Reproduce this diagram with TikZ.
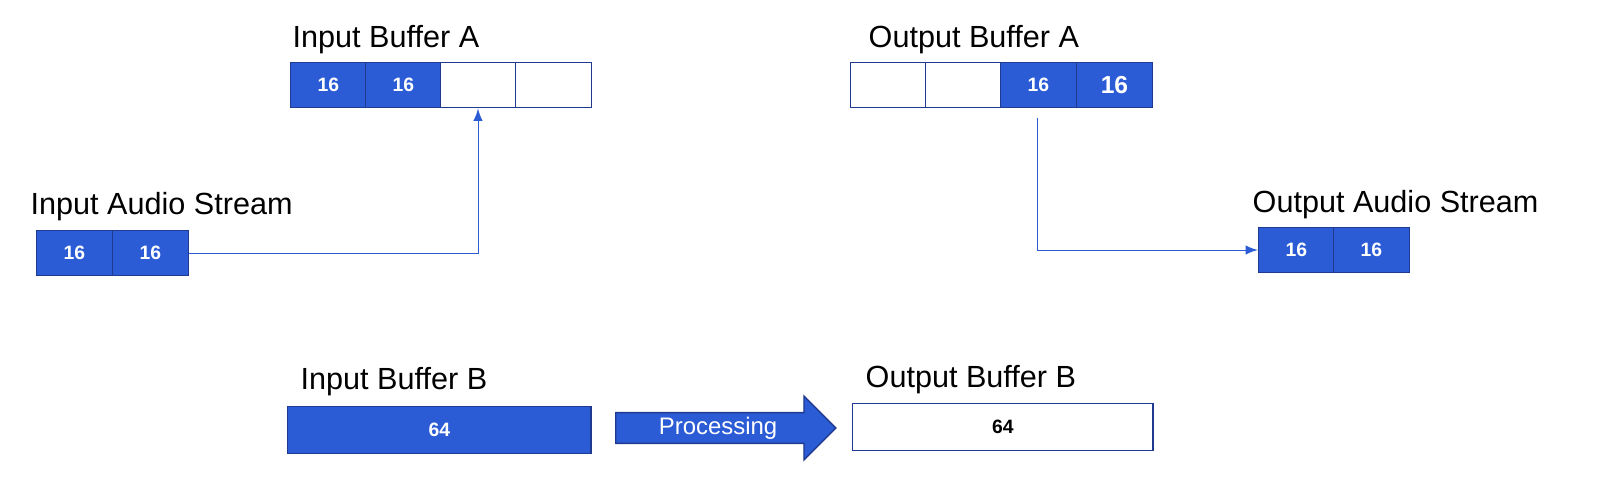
\documentclass[tikz,border=0pt]{standalone}
\usepackage{fontspec}
\setmainfont{Liberation Sans}
\usetikzlibrary{positioning,shapes.arrows}
\definecolor{cellblue}{HTML}{2B5CD6}
\definecolor{celledge}{HTML}{1F3A8F}
\tikzset{
    cell/.style={draw=celledge, fill=cellblue, text=white, minimum width=0.755cm, minimum height=0.45cm, inner sep=0pt, font=\fontsize{5.5}{6}\selectfont\bfseries, anchor=north west},
    empty/.style={cell, fill=white},
    title/.style={anchor=south west, inner sep=0pt, font=\fontsize{8.7}{9}\selectfont},
    link/.style={draw=cellblue, line width=0.25pt, -latex},
}
\begin{document}
\begin{tikzpicture}[x=0.01cm, y=-0.01cm]
\useasboundingbox (0,0) rectangle (1622,503);
% input buffer A
\node [cell] (ia1) at (290,62) {16};
\node [cell] (ia2) at (365,62) {16};
\node [empty] (ia3) at (440,62) {};
\node [empty] (ia4) at (515,62) {};
\node [title] at (292,55) {Input Buffer A};
% output buffer A
\node [empty] (oa1) at (850,62) {};
\node [empty] (oa2) at (925,62) {};
\node [cell] (oa3) at (1000,62) {16};
\node [cell, font=\fontsize{7}{8}\selectfont\bfseries] (oa4) at (1076,62) {16};
\node [title] at (868,55) {Output Buffer A};
% input audio stream
\node [cell] (is1) at (36,230) {16};
\node [cell] (is2) at (112,230) {16};
\node [title] at (30,222) {Input Audio Stream};
% output audio stream
\node [cell] (os1) at (1258,227) {16};
\node [cell] (os2) at (1333,227) {16};
\node [title] at (1252,220) {Output Audio Stream};
% connectors
\coordinate (c1) at (478,253);
\draw [link] (is2.east |- c1) -- (c1) -- (c1 |- ia3.south);
\coordinate (c2) at (1037,118);
\coordinate (c3) at (1037,250);
\draw [link] (c2) -- (c3) -- (os1.west |- c3);
% buffers B
\node [cell, minimum width=3.03cm, minimum height=0.47cm] (ib) at (287,406) {64};
\node [title] at (300,397) {Input Buffer B};
\node [empty, text=black, minimum width=3.0cm, minimum height=0.47cm] (ob) at (852,403) {64};
\node [title] at (865,395) {Output Buffer B};
\node [single arrow, draw=celledge, fill=cellblue, text=white, minimum width=0.56cm, minimum height=2.2cm, single arrow head extend=0.165cm, inner sep=1pt, font=\fontsize{6.8}{7}\selectfont, anchor=tail] (proc) at (615,428) {\raisebox{-1pt}{Processing}\hspace{0.5cm}};
\end{tikzpicture}
\end{document}
